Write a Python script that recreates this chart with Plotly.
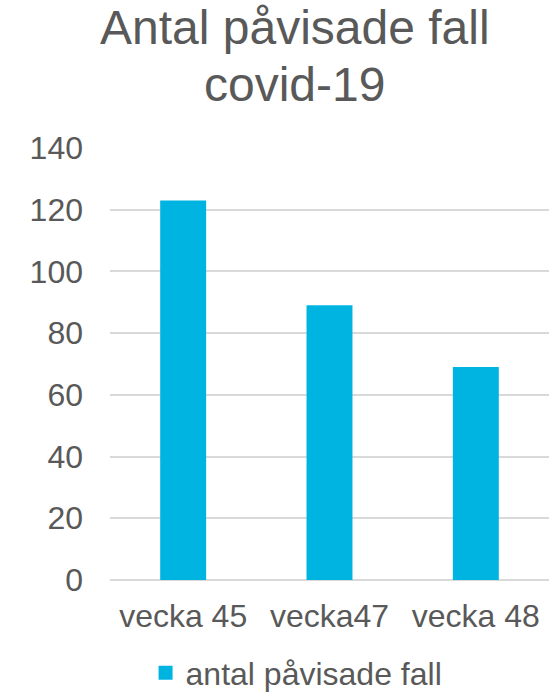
import plotly.graph_objects as go

categories = ["vecka 45", "vecka47", "vecka 48"]
values = [123, 89, 69]
series_name = "antal påvisade fall"
title_lines = ["Antal påvisade fall", "covid-19"]
y_ticks = [0, 20, 40, 60, 80, 100, 120, 140]

txt = "#595959"
bar_color = "#00B4E2"
font_family = "Liberation Sans, Arial, sans-serif"

fig = go.Figure()
fig.add_trace(go.Bar(
    x=categories, y=values, name=series_name,
    marker=dict(color=bar_color, line=dict(width=0)),
    showlegend=False,
))
# legend entry with a larger square swatch
fig.add_trace(go.Scatter(
    x=[None], y=[None], mode="markers", name=series_name,
    marker=dict(symbol="square", size=14, color=bar_color),
    showlegend=True, hoverinfo="skip",
))

title_y = [1.344, 1.344 - 57 / 432]
for line, yy in zip(title_lines, title_y):
    fig.add_annotation(
        text=line, xref="paper", yref="paper", x=0.421, y=yy,
        xanchor="center", yanchor="top", showarrow=False,
        font=dict(size=48, color=txt, family=font_family),
    )

fig.update_layout(
    width=551, height=695,
    margin=dict(l=110, r=2, t=148, b=115, autoexpand=False),
    paper_bgcolor="white", plot_bgcolor="white",
    bargap=0.686,
    font=dict(family=font_family, color=txt, size=32),
    showlegend=True,
    legend=dict(orientation="h", x=0.425, xanchor="center", y=-0.215, yanchor="middle",
                font=dict(size=32, color=txt), itemwidth=30),
    xaxis=dict(showgrid=False, showline=False, ticks="", ticklabelstandoff=14,
               tickfont=dict(size=32, color=txt)),
    yaxis=dict(range=[0, 140], tickvals=y_ticks, showgrid=True, gridcolor="#D9D9D9",
               gridwidth=1.5, zeroline=True, zerolinecolor="#D9D9D9", zerolinewidth=1.5,
               showline=False, ticks="", ticklabelstandoff=26,
               tickfont=dict(size=32, color=txt)),
)

fig.write_html("out.html", config={"displayModeBar": False},
               post_script="document.body.style.margin='0';")
